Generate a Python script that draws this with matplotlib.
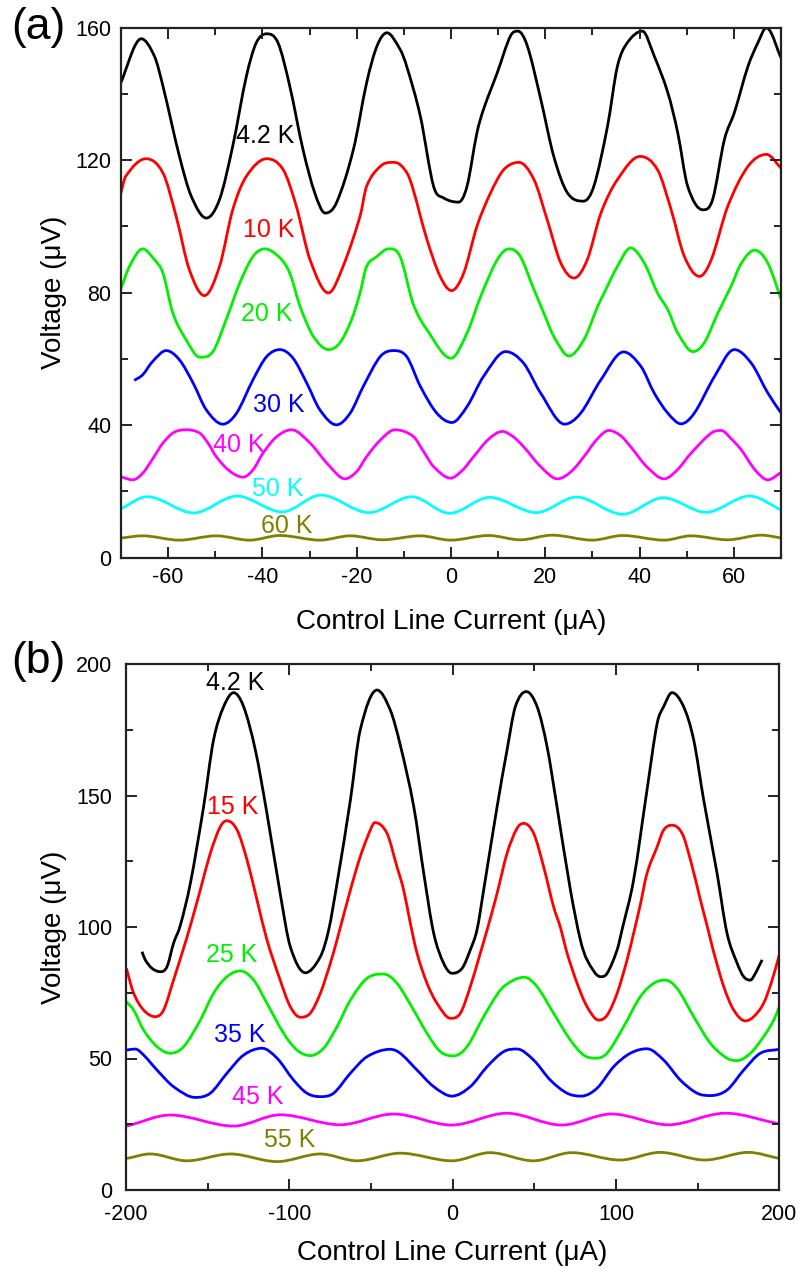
import matplotlib
matplotlib.use("Agg")
import matplotlib.pyplot as plt
from matplotlib.ticker import MultipleLocator
from matplotlib.path import Path
from matplotlib.patches import PathPatch

plt.rcParams['font.family'] = ['Liberation Sans', 'DejaVu Sans']
plt.rcParams['axes.unicode_minus'] = False

# ---------------- Panel (a) data ----------------
a_labels = ["4.2 K", "10 K", "20 K", "30 K", "40 K", "50 K", "60 K"]
a_colors = ["#000000", "#ff0000", "#00f000", "#0000ff", "#ff00ff", "#00ffff", "#808000"]

a42_x = [-70.2, -65.7, -62.9, -61.1, -57.6, -55.1, -51.9, -49.1, -46.3, -43.4, -41.3, -39.1, -36.7, -34.2,
         -31.4, -28.9, -26.7, -24.3, -20.7, -17.9, -15.7, -13.6, -10.8, -9.4, -6.5, -3.7, -1.6, 1.6, 3.4,
         5.5, 6.9, 9.8, 12.6, 14.2, 16.2, 19.0, 21.8, 24.7, 28.1, 30.3, 33.2, 35.3, 37.4, 40.6, 43.1, 46.0,
         48.1, 50.2, 53.4, 55.5, 58.0, 60.1, 63.0, 65.1, 66.9, 70.3]
a42_y = [142.8, 156.6, 151.3, 142.3, 121.1, 109.1, 102.5, 108.1, 124.2, 145.3, 155.4, 158.1, 155.4, 142.3,
         123.2, 110.1, 104.0, 107.1, 123.2, 143.3, 154.4, 158.4, 153.4, 148.3, 133.2, 112.1, 108.6, 107.3, 112.1,
         128.2, 135.3, 146.3, 157.4, 158.9, 154.4, 138.6, 121.1, 110.1, 107.6, 112.1, 130.2, 148.3, 155.4, 158.9,
         151.4, 140.3, 128.2, 112.1, 105.0, 108.1, 126.2, 134.3, 148.3, 155.4, 159.9, 149.8]

a10_x = [-70.2, -69.0, -64.7, -61.1, -58.3, -55.5, -52.3, -49.1, -46.3, -43.4, -39.1, -35.6, -32.8, -29.9,
         -26.0, -22.9, -19.3, -17.9, -15.0, -12.6, -10.8, -8.7, -5.1, -2.3, 0.1, 2.7, 5.5, 8.4, 11.2, 14.4,
         17.6, 20.4, 23.3, 26.1, 28.9, 31.8, 35.3, 40.1, 43.8, 46.7, 49.5, 52.7, 55.2, 58.7, 63.0, 66.9, 70.3]
a10_y = [109.1, 115.1, 120.4, 116.1, 103.0, 86.9, 79.1, 87.9, 105.0, 115.1, 120.4, 117.1, 106.0, 89.9,
         79.9, 87.9, 103.0, 112.1, 118.1, 119.3, 118.6, 114.1, 96.0, 84.9, 80.6, 85.9, 100.0, 110.1, 117.1, 119.3,
         114.1, 102.0, 88.9, 84.4, 89.9, 104.0, 114.1, 121.1, 117.1, 105.0, 90.9, 84.9, 89.9, 106.0, 118.1, 121.7, 117.1]

a20_x = [-70.2, -68.2, -65.4, -62.9, -61.1, -59.0, -56.2, -53.3, -50.5, -47.7, -44.8, -42.0, -39.5, -36.3,
         -34.2, -32.0, -29.2, -26.0, -23.6, -21.1, -19.3, -17.9, -15.7, -13.3, -10.8, -8.0, -5.1, 0.0, 3.4,
         6.2, 9.8, 12.3, 14.7, 17.6, 19.7, 21.8, 25.0, 28.2, 31.1, 32.5, 35.3, 38.1, 41.0, 43.8, 46.0, 48.1,
         51.3, 53.7, 56.6, 59.4, 61.6, 64.4, 67.2, 70.3]
a20_y = [80.4, 87.9, 93.2, 89.9, 85.9, 73.8, 65.8, 60.5, 62.2, 71.8, 82.9, 90.9, 93.2, 90.5,
         85.9, 75.8, 66.8, 62.8, 64.8, 71.8, 79.9, 87.9, 90.9, 93.2, 90.9, 76.5, 68.8, 60.2, 67.8,
         78.5, 89.9, 93.2, 90.9, 80.9, 73.8, 66.8, 60.9, 65.8, 75.8, 79.9, 87.9, 93.5, 88.9, 79.9, 74.8, 67.8,
         62.2, 64.8, 73.8, 81.9, 88.9, 92.8, 88.9, 76.9]

a30_x = [-67.2, -65.4, -63.3, -60.4, -57.6, -54.7, -51.9, -48.4, -45.5, -42.0, -39.1, -36.3, -33.5, -30.6,
         -27.8, -24.3, -21.4, -18.6, -15.0, -12.2, -9.4, -6.5, -3.0, 0.2, 3.4, 6.9, 11.6, 15.4, 19.0, 24.1,
         27.5, 31.8, 36.6, 40.3, 43.1, 46.0, 48.8, 51.6, 55.9, 60.1, 63.7, 67.2, 70.3]
a30_y = [53.5, 55.2, 59.2, 62.5, 59.7, 52.7, 44.6, 40.3, 43.6, 53.7, 60.7, 62.8, 60.2, 52.7,
         44.6, 40.1, 43.6, 51.7, 60.7, 62.5, 60.7, 51.7, 43.6, 40.8, 45.6, 54.7, 62.2, 58.7, 49.7, 40.3,
         43.6, 53.7, 62.1, 57.7, 49.7, 43.6, 40.4, 43.6, 54.7, 62.8, 58.7, 49.7, 43.1]

a40_x = [-70.2, -67.5, -65.4, -63.2, -61.1, -58.8, -56.2, -53.3, -51.5, -49.8, -47.0, -44.1, -42.0, -39.9,
         -37.0, -33.8, -29.9, -26.0, -22.5, -20.0, -17.9, -15.0, -11.9, -8.0, -5.8, -3.7, -0.1, 2.5, 4.8,
         8.0, 10.9, 13.2, 15.4, 19.0, 22.6, 25.5, 28.2, 31.0, 33.5, 36.0, 38.1, 41.5, 45.2, 48.0, 50.9,
         55.2, 57.3, 59.5, 61.6, 64.5, 67.2, 70.3]
a40_y = [24.5, 23.5, 25.5, 30.0, 34.6, 37.8, 38.6, 37.6, 34.5, 30.5, 26.2, 24.3, 26.5, 31.5,
         36.5, 38.6, 34.6, 28.0, 23.8, 26.0, 30.5, 35.5, 38.6, 36.6, 32.0, 27.5, 24.0, 26.5, 30.5,
         35.8, 38.1, 36.5, 33.5, 27.5, 23.8, 26.0, 30.5, 35.8, 38.4, 36.8, 33.5, 27.5, 23.8, 26.5, 31.5,
         37.6, 38.4, 35.8, 32.5, 26.5, 23.5, 26.0]

a50_x = [-70.2, -64.4, -54.6, -45.4, -35.8, -27.6, -17.4, -8.3, -0.3, 8.2, 18.1, 26.6, 36.4, 45.0,
         54.1, 63.3, 70.3]
a50_y = [14.6, 18.4, 13.5, 18.6, 13.8, 18.9, 13.6, 18.4, 13.4, 18.2, 13.6, 18.3, 13.1, 18.1,
         13.7, 18.6, 14.2]

a60_x = [-70.2, -65.4, -57.6, -49.8, -42.7, -36.3, -27.8, -21.4, -14.5, -6.5, -0.1, 8.0, 14.7, 21.5,
         30.0, 36.4, 45.2, 50.9, 58.7, 65.8, 70.3]
a60_y = [5.9, 6.6, 5.3, 6.6, 5.3, 6.7, 5.3, 6.6, 5.4, 6.6, 5.3, 6.7, 5.4, 6.8,
         5.3, 6.7, 5.3, 6.6, 5.4, 6.8, 5.9]

a_label_x = [-39.5, -38.7, -39.1, -36.5, -45.0, -36.7, -34.8]
a_label_y = [127.3, 98.9, 73.6, 46.1, 34.0, 20.7, 9.7]

# ---------------- Panel (b) data ----------------
b_labels = ["4.2 K", "15 K", "25 K", "35 K", "45 K", "55 K"]
b_colors = ["#000000", "#ff0000", "#00f000", "#0000ff", "#ff00ff", "#808000"]

b42_x = [-190.2, -188.2, -184.1, -179.0, -174.9, -170.9, -166.8, -160.6, -152.5, -146.4, -140.2,
         -134.1, -128.0, -120.8, -113.7, -105.6, -99.4, -90.2, -81.0, -75.9, -70.8, -62.6,
         -56.6, -46.3, -38.2, -32.0, -23.8, -17.7, -11.6, -5.5, -0.4, 5.8, 10.8, 14.9, 19.0,
         27.2, 33.3, 38.4, 45.1, 51.7, 57.8, 63.9, 72.1, 78.2, 82.3, 90.5, 94.6, 100.7, 103.7,
         110.8, 119.0, 125.2, 129.2, 134.3, 141.4, 147.6, 153.7, 161.9, 168.0, 174.2, 178.2, 182.3,
         185.4, 187.4, 189.5]
b42_y = [90.6, 87.5, 84.3, 83.0, 84.9, 93.8, 100.5, 116.6, 145.7, 171.1, 183.8,
         189.1, 183.8, 167.3, 143.2, 112.8, 92.5, 82.6, 88.7, 98.9, 116.6, 148.3,
         174.9, 190.1, 182.5, 169.0, 145.7, 120.4, 97.6, 86.2, 82.4, 84.3, 91.3, 98.9, 114.1,
         145.7, 167.3, 183.8, 189.5, 183.8, 168.6, 145.7, 114.1, 95.1, 87.5, 81.1, 82.4, 91.3, 98.9,
         117.9, 152.1, 177.4, 183.8, 189.1, 183.8, 171.1, 148.3, 120.4, 97.6, 86.2, 81.1, 79.8,
         82.4, 84.9, 87.5]

b15_x = [-199.8, -195.3, -189.2, -182.1, -177.0, -170.9, -164.7, -160.6, -154.5, -148.4, -142.3, -138.2,
         -132.0, -125.9, -119.8, -113.7, -105.6, -99.4, -93.3, -87.2, -81.0, -74.9, -70.8, -62.6, -56.6,
         -50.4, -47.6, -40.2, -34.1, -30.0, -25.9, -21.8, -15.7, -9.6, -1.4, 4.7, 10.8, 16.9, 21.1, 27.2,
         33.3, 39.4, 43.5, 49.6, 55.7, 61.8, 65.9, 70.1, 76.2, 82.3, 89.4, 94.6, 100.7, 106.8, 110.8, 114.9,
         119.0, 125.2, 129.2, 134.3, 140.5, 145.6, 151.7, 156.8, 159.8, 166.0, 172.1, 179.2, 184.3, 190.4,
         195.6, 200.0]
b15_y = [84.3, 74.8, 68.4, 65.9, 68.4, 79.8, 92.0, 100.5, 114.1, 128.0, 138.1, 140.4,
         136.9, 125.5, 110.3, 95.1, 79.8, 69.7, 65.7, 67.2, 74.8, 86.2, 95.1, 114.1, 126.7,
         136.9, 139.7, 135.6, 122.9, 114.1, 101.4, 90.0, 78.6, 71.0, 65.3, 67.2, 77.3, 90.0, 98.9, 112.8,
         128.0, 137.5, 139.4, 135.6, 122.9, 107.7, 100.0, 90.0, 78.6, 69.7, 64.6, 66.5, 74.8, 87.5, 97.6, 108.5,
         120.4, 130.5, 136.9, 138.7, 135.6, 125.5, 110.3, 98.0, 90.5, 77.3, 68.4, 64.3, 65.9, 71.0,
         79.8, 89.4]

b25_x = [-199.8, -195.3, -189.2, -181.0, -172.9, -164.7, -154.5, -146.4, -138.2, -130.0, -121.8, -113.7,
         -103.5, -95.3, -87.2, -79.0, -70.8, -62.6, -52.4, -42.3, -34.1, -23.9, -15.7, -7.5, 0.6, 8.8, 19.0,
         29.2, 37.4, 43.9, 51.7, 61.8, 72.1, 80.2, 87.4, 94.5, 104.7, 114.9, 123.1, 130.2, 137.4, 147.6,
         157.8, 168.0, 174.2, 182.3, 190.4, 196.6, 200.0]
b25_y = [71.6, 68.4, 60.8, 54.5, 52.0, 54.5, 64.6, 74.8, 81.1, 83.3, 79.8, 71.0,
         59.6, 53.2, 51.1, 53.9, 62.1, 72.2, 80.5, 82.1, 78.6, 68.4, 59.6, 52.6, 51.0, 54.5, 65.9,
         76.0, 79.8, 80.9, 77.3, 67.2, 57.0, 51.3, 50.1, 52.0, 62.1, 73.5, 78.6, 79.8, 76.7, 65.9,
         55.8, 50.1, 49.2, 52.0, 58.3, 64.6, 69.7]

b35_x = [-199.8, -194.3, -189.2, -181.0, -170.9, -157.6, -148.4, -138.2, -128.0, -116.7, -107.5, -97.4,
         -89.2, -81.0, -72.9, -62.6, -52.4, -38.2, -32.1, -21.8, -11.6, -0.4, 10.8, 21.1, 31.2, 39.4, 49.6,
         59.8, 70.1, 78.8, 88.4, 98.6, 108.8, 119.0, 129.2, 139.4, 149.7, 157.8, 168.0, 178.2, 188.4, 200.0]
b35_y = [53.2, 53.6, 51.3, 45.6, 39.3, 35.2, 36.8, 44.4, 51.3, 53.9, 50.1, 41.8,
         36.8, 35.5, 36.8, 44.4, 50.7, 53.5, 52.0, 45.6, 39.3, 35.7, 39.3, 46.9, 52.6, 53.6, 49.4,
         41.8, 36.8, 35.7, 38.7, 46.9, 52.0, 53.7, 49.4, 41.8, 36.8, 35.9, 38.0, 45.6, 52.0, 53.5]

b45_x = [-199.4, -172.9, -134.1, -105.5, -68.8, -36.1, -0.6, 33.1, 66.7, 97.4, 132.1, 166.8, 200.0]
b45_y = [24.3, 28.5, 24.3, 28.6, 24.8, 28.9, 24.7, 29.2, 24.7, 28.9, 24.8, 29.2, 25.1]

b55_x = [-199.4, -185.1, -162.7, -136.1, -107.5, -81.0, -58.6, -32.0, -0.4, 22.9, 49.4, 72.9, 102.5,
         127.0, 154.5, 181.1, 200.0]
b55_y = [12.0, 13.7, 11.1, 13.7, 10.8, 13.7, 11.1, 14.0, 11.1, 14.2, 11.1, 14.2, 11.4,
         14.3, 11.4, 14.3, 12.0]

b_label_x = [-133.1, -134.5, -135.1, -130.6, -119.6, -100.0]
b_label_y = [192.9, 145.7, 89.4, 58.9, 35.2, 19.0]

xlabel_text = "Control Line Current (\u03bcA)"
ylabel_text = "Voltage (\u03bcV)"


def smooth_line(ax, xs, ys, color, lw):
    """Draw a smooth curve through the measured points (cubic Hermite segments
    rendered as a Bezier path), in data coordinates."""
    n = len(xs)
    slopes = []
    for i in range(n):
        if i == 0:
            m = (ys[1] - ys[0]) / (xs[1] - xs[0])
        elif i == n - 1:
            m = (ys[-1] - ys[-2]) / (xs[-1] - xs[-2])
        else:
            d0 = (ys[i] - ys[i - 1]) / (xs[i] - xs[i - 1])
            d1 = (ys[i + 1] - ys[i]) / (xs[i + 1] - xs[i])
            if d0 * d1 <= 0:
                m = 0.0
            else:
                m = (ys[i + 1] - ys[i - 1]) / (xs[i + 1] - xs[i - 1])
        slopes.append(m)
    verts = [(xs[0], ys[0])]
    codes = [Path.MOVETO]
    for i in range(n - 1):
        h = xs[i + 1] - xs[i]
        verts += [(xs[i] + h / 3, ys[i] + slopes[i] * h / 3),
                  (xs[i + 1] - h / 3, ys[i + 1] - slopes[i + 1] * h / 3),
                  (xs[i + 1], ys[i + 1])]
        codes += [Path.CURVE4] * 3
    patch = PathPatch(Path(verts, codes), facecolor='none', edgecolor=color,
                      lw=lw, joinstyle='round', capstyle='butt')
    ax.add_patch(patch)


# ---------------- Figure ----------------
W, H = 802, 1274
fig = plt.figure(figsize=(W / 100, H / 100), dpi=100)

ax_a = fig.add_axes([121 / W, 1 - 557.7 / H, 660 / W, 530.2 / H])
ax_b = fig.add_axes([126 / W, 1 - 1190 / H, 653.3 / W, 526 / H])

a_series = [(a42_x, a42_y), (a10_x, a10_y), (a20_x, a20_y), (a30_x, a30_y),
            (a40_x, a40_y), (a50_x, a50_y), (a60_x, a60_y)]
b_series = [(b42_x, b42_y), (b15_x, b15_y), (b25_x, b25_y), (b35_x, b35_y),
            (b45_x, b45_y), (b55_x, b55_y)]

lw = 2.0
for (xs, ys), c in zip(a_series, a_colors):
    smooth_line(ax_a, xs, ys, c, lw)
for lab, c, lx, ly in zip(a_labels, a_colors, a_label_x, a_label_y):
    ax_a.text(lx, ly, lab, color=c, fontsize=18, ha='center', va='center')

for (xs, ys), c in zip(b_series, b_colors):
    smooth_line(ax_b, xs, ys, c, lw)
for lab, c, lx, ly in zip(b_labels, b_colors, b_label_x, b_label_y):
    ax_b.text(lx, ly, lab, color=c, fontsize=18, ha='center', va='center')

ax_a.set_xlim(-70, 70)
ax_a.set_ylim(0, 160)
ax_a.xaxis.set_major_locator(MultipleLocator(20))
ax_a.xaxis.set_minor_locator(MultipleLocator(10))
ax_a.yaxis.set_major_locator(MultipleLocator(40))
ax_a.yaxis.set_minor_locator(MultipleLocator(20))

ax_b.set_xlim(-200, 200)
ax_b.set_ylim(0, 200)
ax_b.xaxis.set_major_locator(MultipleLocator(100))
ax_b.xaxis.set_minor_locator(MultipleLocator(50))
ax_b.yaxis.set_major_locator(MultipleLocator(50))
ax_b.yaxis.set_minor_locator(MultipleLocator(25))

for ax, pad in ((ax_a, 7), (ax_b, 10)):
    for s in ax.spines.values():
        s.set_linewidth(1.6)
        s.set_color('#222222')
    ax.tick_params(which='both', direction='in', top=True, right=True,
                   width=1.4, color='#222222', labelsize=15.5, pad=pad)
    ax.tick_params(which='major', length=8)
    ax.tick_params(which='minor', length=5)

# axis labels and panel letters
fig.text(451 / W, 1 - 622 / H, xlabel_text, fontsize=20, ha='center', va='center')
fig.text(452 / W, 1 - 1253 / H, xlabel_text, fontsize=20, ha='center', va='center')
fig.text(54 / W, 1 - 292.6 / H, ylabel_text, fontsize=20, rotation=90, ha='center', va='center')
fig.text(54 / W, 1 - 927 / H, ylabel_text, fontsize=20, rotation=90, ha='center', va='center')
fig.text(11 / W, 1 - 27 / H, "(a)", fontsize=32, ha='left', va='center')
fig.text(11 / W, 1 - 662 / H, "(b)", fontsize=32, ha='left', va='center')

fig.savefig("out.png", dpi=100)
